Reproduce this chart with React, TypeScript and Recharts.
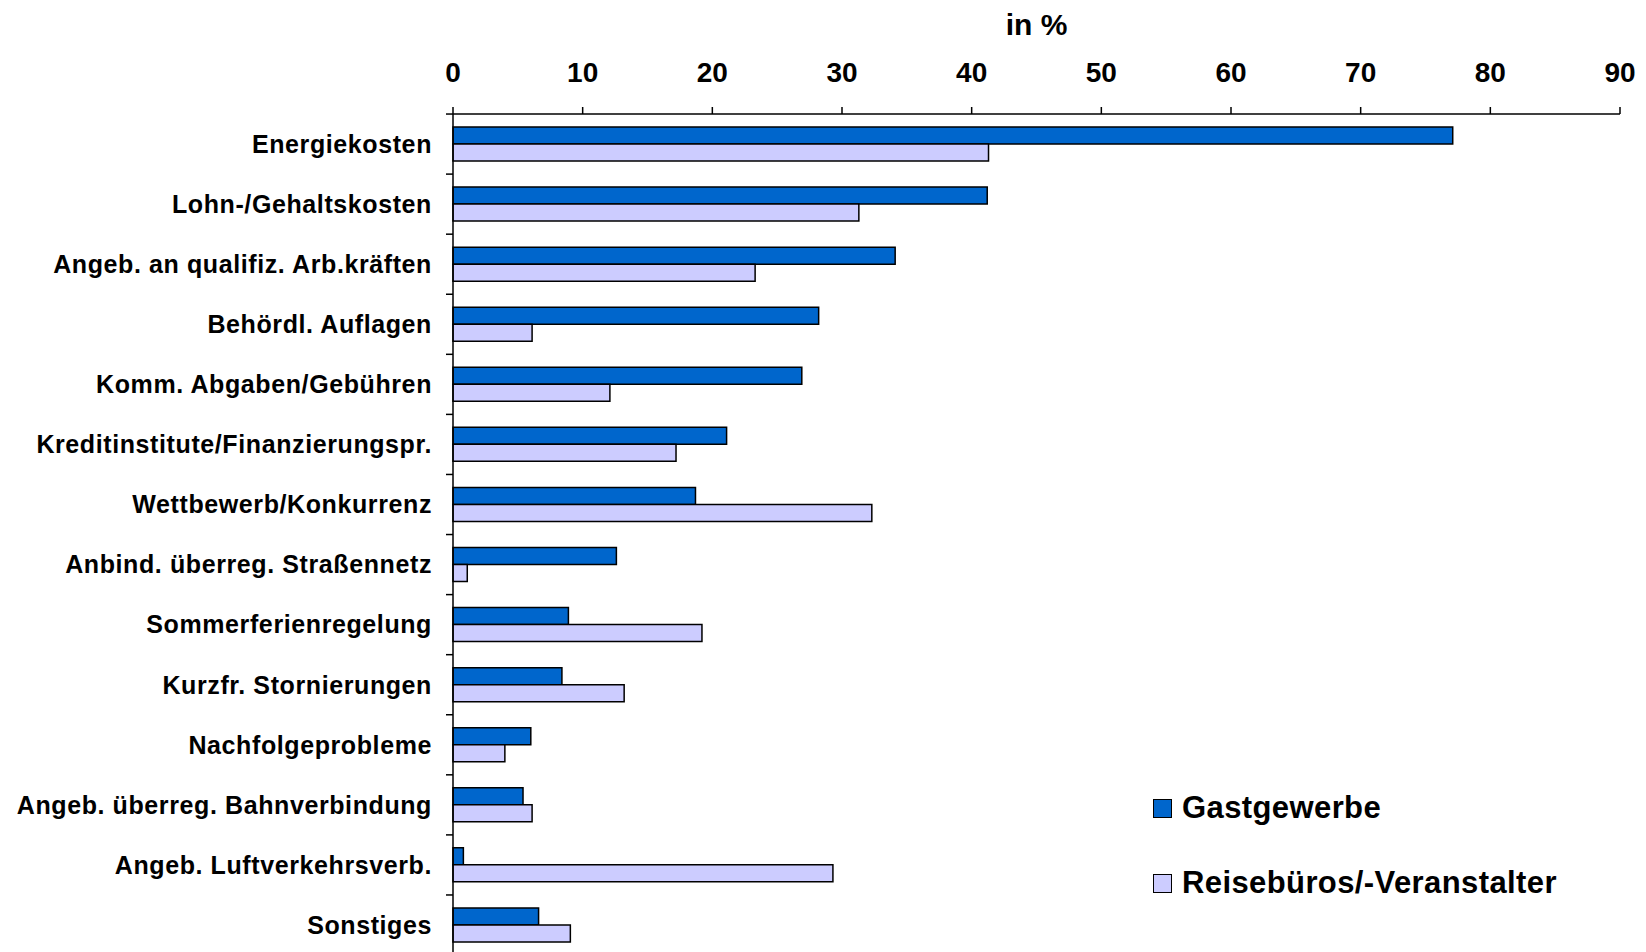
import { BarChart, Bar, XAxis, YAxis, Legend } from "recharts";

const categories = [
  "Energiekosten",
  "Lohn-/Gehaltskosten",
  "Angeb. an qualifiz. Arb.kräften",
  "Behördl. Auflagen",
  "Komm. Abgaben/Gebühren",
  "Kreditinstitute/Finanzierungspr.",
  "Wettbewerb/Konkurrenz",
  "Anbind. überreg. Straßennetz",
  "Sommerferienregelung",
  "Kurzfr. Stornierungen",
  "Nachfolgeprobleme",
  "Angeb. überreg. Bahnverbindung",
  "Angeb. Luftverkehrsverb.",
  "Sonstiges",
];

const gastgewerbe = [77.1, 41.2, 34.1, 28.2, 26.9, 21.1, 18.7, 12.6, 8.9, 8.4, 6.0, 5.4, 0.8, 6.6];
const reisebueros = [41.3, 31.3, 23.3, 6.1, 12.1, 17.2, 32.3, 1.1, 19.2, 13.2, 4.0, 6.1, 29.3, 9.05];

const xTicks = [0, 10, 20, 30, 40, 50, 60, 70, 80, 90];

const data = categories.map((name, i) => ({
  name,
  gast: gastgewerbe[i],
  reise: reisebueros[i],
}));

const FONT = '"Liberation Sans", Arial, sans-serif';

const CategoryTick = (props: any) => {
  const { x, y, payload } = props;
  return (
    <g>
      <line x1={x + 14} x2={x + 21} y1={y - 30} y2={y - 30} stroke="#000" strokeWidth={1.5} />
      <text
        x={x}
        y={y}
        dy="0.355em"
        textAnchor="end"
        fill="#000"
        fontFamily={FONT}
        fontWeight="bold"
        fontSize={25}
        letterSpacing={0.6}
      >
        {payload.value}
      </text>
    </g>
  );
};

const LegendBox = (props: any) => {
  const { payload } = props;
  return (
    <div style={{ fontFamily: FONT, fontWeight: "bold", fontSize: 31, color: "#000", letterSpacing: 0.4 }}>
      {(payload || []).map((item: any) => (
        <div
          key={item.value}
          style={{ display: "flex", alignItems: "center", height: 20, marginBottom: 55, whiteSpace: "nowrap" }}
        >
          <div
            style={{
              width: 17,
              height: 17,
              background: item.color,
              border: "1.5px solid #000",
              marginRight: 10,
              flexShrink: 0,
            }}
          />
          <span>{item.value}</span>
        </div>
      ))}
    </div>
  );
};

export default function App() {
  return (
    <div style={{ position: "absolute", left: 0, top: 0, width: 1646, height: 952, overflow: "hidden", background: "#fff" }}>
      <BarChart
        width={1646}
        height={1000}
        data={data}
        layout="vertical"
        margin={{ top: 0, right: 26, bottom: 45, left: 0 }}
        barGap={0}
      >
        <XAxis
          type="number"
          orientation="top"
          domain={[0, 90]}
          ticks={xTicks}
          height={114}
          tickSize={7}
          tickMargin={25}
          axisLine={{ stroke: "#000", strokeWidth: 1.5 }}
          tickLine={{ stroke: "#000", strokeWidth: 1.5 }}
          tick={{ fill: "#000", fontFamily: FONT, fontWeight: "bold", fontSize: 28 }}
          label={{
            value: "in %",
            position: "insideTop",
            offset: 14,
            fill: "#000",
            fontFamily: FONT,
            fontWeight: "bold",
            fontSize: 30,
          }}
        />
        <YAxis
          type="category"
          dataKey="name"
          width={453}
          tickSize={7}
          tickMargin={14}
          interval={0}
          axisLine={{ stroke: "#000", strokeWidth: 1.5 }}
          tickLine={false}
          tick={<CategoryTick />}
        />
        <Legend
          layout="horizontal"
          align="center"
          verticalAlign="middle"
          content={<LegendBox />}
          wrapperStyle={{ left: 1153, top: 798, width: 480, height: 120 }}
        />
        <Bar
          dataKey="gast"
          name="Gastgewerbe"
          fill="#0066CC"
          stroke="#000"
          strokeWidth={1.5}
          barSize={17}
          isAnimationActive={false}
        />
        <Bar
          dataKey="reise"
          name="Reisebüros/-Veranstalter"
          fill="#CCCCFF"
          stroke="#000"
          strokeWidth={1.5}
          barSize={17}
          isAnimationActive={false}
        />
      </BarChart>
    </div>
  );
}
